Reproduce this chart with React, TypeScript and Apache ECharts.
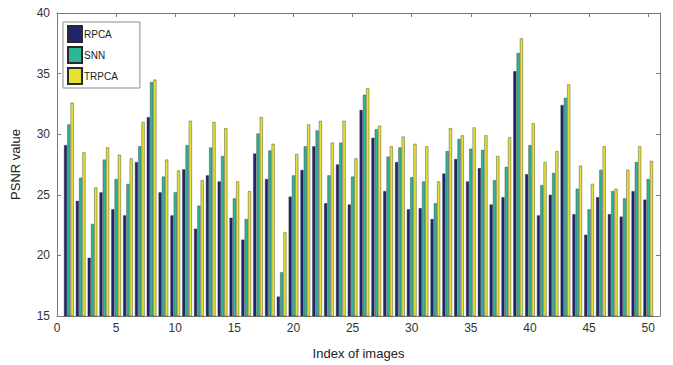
import React, { useEffect, useRef } from "react";
import * as echarts from "echarts";

const imageIndex = [
  "0", "1", "2", "3", "4", "5", "6", "7", "8", "9", "10", "11", "12", "13", "14", "15", "16", "17", "18", "19", "20",
  "21", "22", "23", "24", "25", "26", "27", "28", "29", "30", "31", "32", "33", "34", "35", "36", "37", "38", "39", "40",
  "41", "42", "43", "44", "45", "46", "47", "48", "49", "50", "51",
];

const rpca = [
  29.1, 24.5, 19.8, 25.2, 23.8, 23.3, 27.7, 31.4, 25.2, 23.3,
  27.1, 22.2, 26.6, 26.1, 23.1, 21.3, 28.4, 26.3, 16.6, 24.85,
  27.05, 29.0, 24.3, 27.5, 24.2, 32.0, 29.7, 25.3, 27.7, 23.8,
  23.9, 23.0, 26.75, 27.95, 26.1, 27.2, 24.2, 24.8, 35.2, 26.7,
  23.3, 25.0, 32.4, 23.4, 21.7, 24.8, 23.4, 23.2, 25.3, 24.6,
];
const snn = [
  30.8, 26.4, 22.6, 27.9, 26.3, 25.9, 29.0, 34.3, 26.5, 25.2,
  29.1, 24.1, 28.9, 28.2, 24.7, 23.0, 30.05, 28.65, 18.6, 26.6,
  29.0, 30.3, 26.6, 29.3, 26.5, 33.25, 30.4, 28.15, 28.9, 26.45,
  26.1, 24.3, 28.6, 29.6, 28.8, 28.7, 26.2, 27.3, 36.7, 29.1,
  25.8, 26.8, 33.0, 25.5, 23.8, 27.05, 25.3, 24.7, 27.7, 26.3,
];
const trpca = [
  32.6, 28.5, 25.6, 28.9, 28.3, 28.0, 31.0, 34.5, 27.9, 27.0,
  31.1, 26.2, 31.0, 30.5, 26.1, 25.3, 31.4, 29.2, 21.9, 28.35,
  30.8, 31.1, 29.3, 31.1, 28.0, 33.8, 30.7, 29.0, 29.8, 29.2,
  29.0, 26.1, 30.5, 29.9, 30.55, 29.9, 28.2, 29.75, 37.9, 30.9,
  27.7, 28.6, 34.1, 27.4, 25.9, 29.0, 25.5, 27.05, 29.0, 27.8,
];

const seriesNames = ["RPCA", "SNN", "TRPCA"];
const seriesColors = ["#1f2470", "#2fb59a", "#e6e232"];

const pad = (vals: number[]) => ["-", ...vals, "-"];

export default function App() {
  const ref = useRef<HTMLDivElement>(null);
  useEffect(() => {
    if (!ref.current) return;
    const chart = echarts.init(ref.current, undefined, { renderer: "svg" });
    const font = "'Liberation Sans', Arial, sans-serif";
    const showEvery5 = (i: number) => i % 5 === 0;
    const lineStyle = { color: "#7a7a7a", width: 1 };
    const option: any = {
      animation: false,
      backgroundColor: "#ffffff",
      textStyle: { fontFamily: font },
      grid: { left: 57, top: 13, width: 603, height: 305, containLabel: false },
      legend: {
        orient: "vertical",
        left: 63,
        top: 22,
        itemWidth: 14,
        itemHeight: 16,
        itemGap: 3,
        padding: [3, 22, 3, 4],
        borderColor: "#8a8a8a",
        borderWidth: 1,
        backgroundColor: "#ffffff",
        textStyle: { fontSize: 10, color: "#222", fontFamily: font, padding: [0, 0, 0, -3] },
        data: seriesNames.map((n) => ({ name: n, icon: "rect" })),
      },
      xAxis: [
        {
          type: "category",
          data: imageIndex,
          boundaryGap: false,
          position: "bottom",
          name: "Index of images",
          nameLocation: "middle",
          nameGap: 31,
          nameTextStyle: { fontSize: 13, color: "#222", fontFamily: font },
          axisLine: { lineStyle },
          axisTick: { inside: true, length: 4, interval: showEvery5, lineStyle },
          axisLabel: { interval: showEvery5, fontSize: 12, color: "#333", margin: 6, fontFamily: font },
          splitLine: { show: false },
        },
        {
          type: "category",
          data: imageIndex,
          boundaryGap: false,
          position: "top",
          axisLine: { lineStyle },
          axisTick: { inside: true, length: 4, interval: showEvery5, lineStyle },
          axisLabel: { show: false },
          splitLine: { show: false },
        },
      ],
      yAxis: [
        {
          type: "value",
          min: 15,
          max: 40,
          interval: 5,
          position: "left",
          name: "PSNR value",
          nameLocation: "middle",
          nameGap: 35,
          nameRotate: 90,
          nameTextStyle: { fontSize: 13, color: "#222", fontFamily: font },
          axisLine: { show: true, lineStyle },
          axisTick: { show: true, inside: true, length: 4, lineStyle },
          axisLabel: { fontSize: 12, color: "#333", margin: 7, fontFamily: font },
          splitLine: { show: false },
        },
        {
          type: "value",
          min: 15,
          max: 40,
          interval: 5,
          position: "right",
          axisLine: { show: true, lineStyle },
          axisTick: { show: true, inside: true, length: 4, lineStyle },
          axisLabel: { show: false },
          splitLine: { show: false },
        },
      ],
      series: [rpca, snn, trpca].map((vals, k) => ({
        name: seriesNames[k],
        type: "bar",
        xAxisIndex: 0,
        yAxisIndex: 0,
        data: pad(vals),
        barWidth: 3,
        barGap: "10%",
        itemStyle: { color: seriesColors[k], borderColor: "#2a2a2a", borderWidth: 0.4 },
      })),
    };
    chart.setOption(option);
    return () => chart.dispose();
  }, []);
  return (
    <div
      ref={ref}
      style={{ position: "absolute", left: 0, top: 0, width: 673, height: 365 }}
    />
  );
}
